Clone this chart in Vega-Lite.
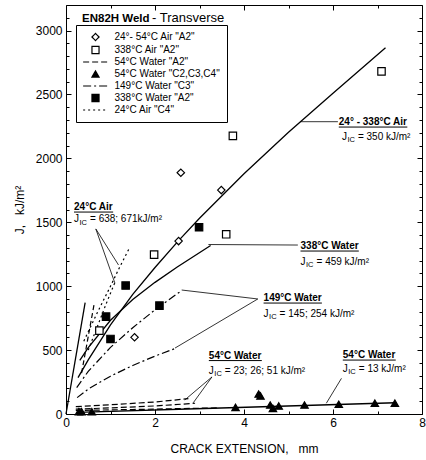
{
  "$schema": "https://vega.github.io/schema/vega-lite/v6.json",
  "autosize": {"type": "none"},
  "padding": {"left": 66, "top": 5, "right": 4, "bottom": 46},
  "width": 356,
  "height": 409,
  "background": "white",
  "config": {
    "font": "Liberation Sans",
    "view": {"stroke": "black", "strokeWidth": 1}
  },
  "datasets": {
    "curves": [
      {"curve": "air", "x": 0.27, "y": 285}, {"curve": "air", "x": 0.5, "y": 424}, {"curve": "air", "x": 1, "y": 698}, {"curve": "air", "x": 1.5, "y": 936}, {"curve": "air", "x": 2, "y": 1146}, {"curve": "air", "x": 2.52, "y": 1353}, {"curve": "air", "x": 3, "y": 1531}, {"curve": "air", "x": 4, "y": 1880}, {"curve": "air", "x": 5, "y": 2205}, {"curve": "air", "x": 6, "y": 2510}, {"curve": "air", "x": 7.18, "y": 2865},
      {"curve": "water338", "x": 0.31, "y": 420}, {"curve": "water338", "x": 0.5, "y": 520}, {"curve": "water338", "x": 1, "y": 733}, {"curve": "water338", "x": 1.5, "y": 895}, {"curve": "water338", "x": 2, "y": 1030}, {"curve": "water338", "x": 2.5, "y": 1150}, {"curve": "water338", "x": 3.25, "y": 1318},
      {"curve": "blunt", "x": 0, "y": 0}, {"curve": "blunt", "x": 0.43, "y": 872},
      {"curve": "fit54", "x": 0.25, "y": 13}, {"curve": "fit54", "x": 3.3, "y": 45}, {"curve": "fit54", "x": 7.4, "y": 88}
    ],
    "offset": [
      {"x": 0.35, "y": 320}, {"x": 0.64, "y": 874}
    ],
    "slines": [
      {"series": "54°C Water \"A2\"", "id": "w1", "x": 0.22, "y": 58}, {"series": "54°C Water \"A2\"", "id": "w1", "x": 1, "y": 72}, {"series": "54°C Water \"A2\"", "id": "w1", "x": 2, "y": 94}, {"series": "54°C Water \"A2\"", "id": "w1", "x": 2.75, "y": 120},
      {"series": "54°C Water \"A2\"", "id": "w2", "x": 0.22, "y": 38}, {"series": "54°C Water \"A2\"", "id": "w2", "x": 1, "y": 48}, {"series": "54°C Water \"A2\"", "id": "w2", "x": 2, "y": 63}, {"series": "54°C Water \"A2\"", "id": "w2", "x": 2.9, "y": 84},
      {"series": "54°C Water \"A2\"", "id": "w3", "x": 0.22, "y": 28}, {"series": "54°C Water \"A2\"", "id": "w3", "x": 1.5, "y": 35}, {"series": "54°C Water \"A2\"", "id": "w3", "x": 3.4, "y": 48},
      {"series": "149°C Water \"C3\"", "id": "u", "x": 0.24, "y": 207}, {"series": "149°C Water \"C3\"", "id": "u", "x": 0.5, "y": 334}, {"series": "149°C Water \"C3\"", "id": "u", "x": 1, "y": 521}, {"series": "149°C Water \"C3\"", "id": "u", "x": 1.5, "y": 675}, {"series": "149°C Water \"C3\"", "id": "u", "x": 2, "y": 815}, {"series": "149°C Water \"C3\"", "id": "u", "x": 2.6, "y": 966},
      {"series": "149°C Water \"C3\"", "id": "l", "x": 0.25, "y": 128}, {"series": "149°C Water \"C3\"", "id": "l", "x": 0.5, "y": 195}, {"series": "149°C Water \"C3\"", "id": "l", "x": 1, "y": 296}, {"series": "149°C Water \"C3\"", "id": "l", "x": 1.5, "y": 380}, {"series": "149°C Water \"C3\"", "id": "l", "x": 2, "y": 453}, {"series": "149°C Water \"C3\"", "id": "l", "x": 2.45, "y": 512},
      {"series": "24°C Air \"C4\"", "id": "d1", "x": 0.4, "y": 570}, {"series": "24°C Air \"C4\"", "id": "d1", "x": 0.7, "y": 790}, {"series": "24°C Air \"C4\"", "id": "d1", "x": 1.0, "y": 1000}, {"series": "24°C Air \"C4\"", "id": "d1", "x": 1.2, "y": 1145}, {"series": "24°C Air \"C4\"", "id": "d1", "x": 1.42, "y": 1295},
      {"series": "24°C Air \"C4\"", "id": "d2", "x": 0.5, "y": 500}, {"series": "24°C Air \"C4\"", "id": "d2", "x": 0.7, "y": 680}, {"series": "24°C Air \"C4\"", "id": "d2", "x": 0.9, "y": 860}, {"series": "24°C Air \"C4\"", "id": "d2", "x": 1.1, "y": 1030}
    ],
    "pts": [
      {"series": "24°- 54°C Air \"A2\"", "x": 1.54, "y": 600}, {"series": "24°- 54°C Air \"A2\"", "x": 2.53, "y": 1353}, {"series": "24°- 54°C Air \"A2\"", "x": 2.58, "y": 1888}, {"series": "24°- 54°C Air \"A2\"", "x": 3.49, "y": 1752},
      {"series": "338°C Air \"A2\"", "x": 0.75, "y": 652}, {"series": "338°C Air \"A2\"", "x": 1.98, "y": 1247}, {"series": "338°C Air \"A2\"", "x": 3.6, "y": 1406}, {"series": "338°C Air \"A2\"", "x": 3.75, "y": 2176}, {"series": "338°C Air \"A2\"", "x": 7.09, "y": 2681},
      {"series": "54°C Water \"C2,C3,C4\"", "x": 0.29, "y": 18}, {"series": "54°C Water \"C2,C3,C4\"", "x": 0.35, "y": 18}, {"series": "54°C Water \"C2,C3,C4\"", "x": 0.58, "y": 18}, {"series": "54°C Water \"C2,C3,C4\"", "x": 3.81, "y": 52}, {"series": "54°C Water \"C2,C3,C4\"", "x": 4.33, "y": 156}, {"series": "54°C Water \"C2,C3,C4\"", "x": 4.37, "y": 141}, {"series": "54°C Water \"C2,C3,C4\"", "x": 4.59, "y": 70}, {"series": "54°C Water \"C2,C3,C4\"", "x": 4.65, "y": 44}, {"series": "54°C Water \"C2,C3,C4\"", "x": 4.78, "y": 63}, {"series": "54°C Water \"C2,C3,C4\"", "x": 5.36, "y": 70}, {"series": "54°C Water \"C2,C3,C4\"", "x": 6.13, "y": 76}, {"series": "54°C Water \"C2,C3,C4\"", "x": 6.94, "y": 84}, {"series": "54°C Water \"C2,C3,C4\"", "x": 7.39, "y": 84},
      {"series": "338°C Water \"A2\"", "x": 0.9, "y": 762}, {"series": "338°C Water \"A2\"", "x": 1.0, "y": 587}, {"series": "338°C Water \"A2\"", "x": 1.34, "y": 1005}, {"series": "338°C Water \"A2\"", "x": 2.1, "y": 848}, {"series": "338°C Water \"A2\"", "x": 2.99, "y": 1461}
    ],
    "arrows": [
      {"x": 6.11, "y": 2287, "x2": 5.27, "y2": 2287},
      {"x": 5.21, "y": 1322, "x2": 3.2, "y2": 1326},
      {"x": 4.31, "y": 900, "x2": 2.6, "y2": 970},
      {"x": 4.31, "y": 900, "x2": 2.45, "y2": 516},
      {"x": 3.28, "y": 290, "x2": 2.67, "y2": 110},
      {"x": 3.28, "y": 290, "x2": 2.86, "y2": 88},
      {"x": 6.19, "y": 279, "x2": 5.85, "y2": 84},
      {"x": 0.67, "y": 1448, "x2": 1.18, "y2": 1166},
      {"x": 0.67, "y": 1448, "x2": 1.1, "y2": 1023}
    ],
    "heads": [
      {"label": "24° - 338°C Air", "x": 6.13, "y": 2261},
      {"label": "338°C Water", "x": 5.27, "y": 1291},
      {"label": "149°C Water", "x": 4.44, "y": 884},
      {"label": "54°C Water", "x": 3.21, "y": 434},
      {"label": "54°C Water", "x": 6.22, "y": 438},
      {"label": "24°C Air", "x": 0.18, "y": 1596}
    ],
    "under": [
      {"x": 6.13, "x2": 7.67, "y": 2245},
      {"x": 5.27, "x2": 6.58, "y": 1275},
      {"x": 4.44, "x2": 5.75, "y": 868},
      {"x": 3.21, "x2": 4.4, "y": 418},
      {"x": 6.22, "x2": 7.41, "y": 422},
      {"x": 0.18, "x2": 1.06, "y": 1580}
    ],
    "jics": [
      {"text": "= 350 kJ/m²", "x": 6.2, "y": 2144},
      {"text": "= 459 kJ/m²", "x": 5.27, "y": 1166},
      {"text": "= 145; 254 kJ/m²", "x": 4.44, "y": 759},
      {"text": "= 23; 26; 51 kJ/m²", "x": 3.21, "y": 313},
      {"text": "= 13 kJ/m²", "x": 6.22, "y": 329},
      {"text": "= 638; 671kJ/m²", "x": 0.18, "y": 1502}
    ],
    "title": [
      {"bold": "EN82H Weld", "rest": "- Transverse", "x": 0.36, "y": 3070}
    ]
  },
  "resolve": {"axis": {"x": "independent", "y": "independent"}},
  "layer": [
    {
      "data": {"name": "curves"},
      "mark": {"type": "line", "color": "black", "strokeWidth": 1.3},
      "encoding": {
        "x": {"field": "x", "type": "quantitative", "scale": {"domain": [0, 8], "nice": false, "zero": false},
          "axis": {"orient": "bottom", "values": [0, 1, 2, 3, 4, 5, 6, 7, 8], "labelExpr": "datum.value % 2 === 0 ? datum.label : ''",
            "tickSize": {"condition": {"test": "datum.value % 2 === 0", "value": -5}, "value": -3},
            "tickColor": "black", "domain": false, "grid": false, "labelFontSize": 12, "labelColor": "black", "labelPadding": 8,
            "labelOverlap": false, "labelFlush": false, "title": "CRACK EXTENSION,\u00a0\u00a0\u00a0mm", "titleFontSize": 12,
            "titleFontWeight": "normal", "titleColor": "black", "titlePadding": 13}},
        "y": {"field": "y", "type": "quantitative", "scale": {"domain": [0, 3200], "nice": false},
          "axis": {"orient": "left", "values": [0, 100, 200, 300, 400, 500, 600, 700, 800, 900, 1000, 1100, 1200, 1300, 1400, 1500, 1600, 1700, 1800, 1900, 2000, 2100, 2200, 2300, 2400, 2500, 2600, 2700, 2800, 2900, 3000, 3100],
            "format": "d", "labelExpr": "datum.value % 500 === 0 ? datum.label : ''",
            "tickSize": {"condition": {"test": "datum.value % 500 === 0", "value": -5}, "value": -3},
            "tickColor": "black", "domain": false, "grid": false, "labelFontSize": 12, "labelColor": "black", "labelPadding": 9,
            "labelOverlap": false, "labelFlush": false, "title": "J,\u00a0\u00a0\u00a0kJ/m²", "titleFontSize": 12,
            "titleFontWeight": "normal", "titleColor": "black", "titlePadding": 9}},
        "detail": {"field": "curve"}
      }
    },
    {
      "data": {"name": "offset"},
      "mark": {"type": "line", "color": "black", "strokeWidth": 1.2, "strokeDash": [5, 3]},
      "encoding": {
        "x": {"field": "x", "type": "quantitative", "scale": {"domain": [0, 8], "nice": false, "zero": false}, "axis": null},
        "y": {"field": "y", "type": "quantitative", "scale": {"domain": [0, 3200], "nice": false}, "axis": null}
      }
    },
    {
      "data": {"name": "slines"},
      "mark": {"type": "line", "color": "black", "strokeWidth": 1.2},
      "encoding": {
        "x": {"field": "x", "type": "quantitative", "scale": {"domain": [0, 8], "nice": false, "zero": false}, "axis": null},
        "y": {"field": "y", "type": "quantitative", "scale": {"domain": [0, 3200], "nice": false}, "axis": null},
        "detail": {"field": "id"},
        "strokeDash": {"field": "series", "type": "nominal",
          "scale": {"domain": ["24°- 54°C Air \"A2\"", "338°C Air \"A2\"", "54°C Water \"A2\"", "54°C Water \"C2,C3,C4\"", "149°C Water \"C3\"", "338°C Water \"A2\"", "24°C Air \"C4\""],
            "range": [[1, 0], [1, 0], [6, 3], [1, 0], [8, 3, 2, 3], [1, 0], [2, 3]]},
          "legend": {"title": null, "orient": "none", "legendX": 10, "legendY": 20, "padding": 7, "strokeColor": "black", "fillColor": "white",
            "labelFontSize": 10, "labelFont": "Liberation Sans", "labelColor": "black", "symbolSize": 50, "symbolStrokeColor": "black",
            "symbolStrokeWidth": 1, "symbolOffset": 7.5, "labelOffset": 14, "rowPadding": 1, "cornerRadius": 0,
            "encode": {"symbols": {"update": {"stroke": {"value": "black"}, "strokeWidth": {"value": 1.2}}}}}}
      }
    },
    {
      "data": {"name": "pts"},
      "mark": {"type": "point", "filled": true, "stroke": "black", "strokeWidth": 1.2, "size": 55, "opacity": 1},
      "encoding": {
        "x": {"field": "x", "type": "quantitative", "scale": {"domain": [0, 8], "nice": false, "zero": false}, "axis": null},
        "y": {"field": "y", "type": "quantitative", "scale": {"domain": [0, 3200], "nice": false}, "axis": null},
        "shape": {"field": "series", "type": "nominal",
          "scale": {"domain": ["24°- 54°C Air \"A2\"", "338°C Air \"A2\"", "54°C Water \"A2\"", "54°C Water \"C2,C3,C4\"", "149°C Water \"C3\"", "338°C Water \"A2\"", "24°C Air \"C4\""],
            "range": ["diamond", "square", "M-3.5,0H3.5", "triangle-up", "M-3.5,0H3.5", "square", "M-3.5,0H3.5"]},
          "legend": {"title": null, "orient": "none", "legendX": 10, "legendY": 20, "padding": 7, "strokeColor": "black", "fillColor": "white",
            "labelFontSize": 10, "labelFont": "Liberation Sans", "labelColor": "black", "symbolSize": 50, "symbolStrokeColor": "black",
            "symbolStrokeWidth": 1, "symbolOffset": 7.5, "labelOffset": 14, "rowPadding": 1, "cornerRadius": 0,
            "encode": {"symbols": {"update": {"stroke": {"value": "black"}, "strokeWidth": {"value": 1.2}}}}}},
        "fill": {"field": "series", "type": "nominal",
          "scale": {"domain": ["24°- 54°C Air \"A2\"", "338°C Air \"A2\"", "54°C Water \"A2\"", "54°C Water \"C2,C3,C4\"", "149°C Water \"C3\"", "338°C Water \"A2\"", "24°C Air \"C4\""],
            "range": ["white", "white", "transparent", "black", "transparent", "black", "transparent"]},
          "legend": {"title": null, "orient": "none", "legendX": 10, "legendY": 20, "padding": 7, "strokeColor": "black", "fillColor": "white",
            "labelFontSize": 10, "labelFont": "Liberation Sans", "labelColor": "black", "symbolSize": 50, "symbolStrokeColor": "black",
            "symbolStrokeWidth": 1, "symbolOffset": 7.5, "labelOffset": 14, "rowPadding": 1, "cornerRadius": 0,
            "encode": {"symbols": {"update": {"stroke": {"value": "black"}, "strokeWidth": {"value": 1.2}}}}}}
      }
    },
    {
      "data": {"name": "arrows"},
      "mark": {"type": "rule", "color": "black", "strokeWidth": 0.8},
      "encoding": {
        "x": {"field": "x", "type": "quantitative", "scale": {"domain": [0, 8], "nice": false, "zero": false},
          "axis": {"orient": "top", "values": [0, 1, 2, 3, 4, 5, 6, 7, 8], "labels": false,
            "tickSize": {"condition": {"test": "datum.value % 2 === 0", "value": -5}, "value": -3},
            "tickColor": "black", "domain": false, "grid": false, "title": null}},
        "y": {"field": "y", "type": "quantitative", "scale": {"domain": [0, 3200], "nice": false},
          "axis": {"orient": "right", "values": [0, 100, 200, 300, 400, 500, 600, 700, 800, 900, 1000, 1100, 1200, 1300, 1400, 1500, 1600, 1700, 1800, 1900, 2000, 2100, 2200, 2300, 2400, 2500, 2600, 2700, 2800, 2900, 3000, 3100],
            "labels": false, "tickSize": {"condition": {"test": "datum.value % 500 === 0", "value": -5}, "value": -3},
            "tickColor": "black", "domain": false, "grid": false, "title": null}},
        "x2": {"field": "x2"},
        "y2": {"field": "y2"}
      }
    },
    {
      "data": {"name": "under"},
      "mark": {"type": "rule", "color": "black", "strokeWidth": 1},
      "encoding": {
        "x": {"field": "x", "type": "quantitative", "scale": {"domain": [0, 8], "nice": false, "zero": false}, "axis": null},
        "y": {"field": "y", "type": "quantitative", "scale": {"domain": [0, 3200], "nice": false}, "axis": null},
        "x2": {"field": "x2"}
      }
    },
    {
      "data": {"name": "heads"},
      "mark": {"type": "text", "align": "left", "baseline": "alphabetic", "fontSize": 10, "fontWeight": "bold", "color": "black"},
      "encoding": {
        "x": {"field": "x", "type": "quantitative", "scale": {"domain": [0, 8], "nice": false, "zero": false}, "axis": null},
        "y": {"field": "y", "type": "quantitative", "scale": {"domain": [0, 3200], "nice": false}, "axis": null},
        "text": {"field": "label"}
      }
    },
    {
      "data": {"name": "jics"},
      "mark": {"type": "text", "align": "left", "baseline": "alphabetic", "fontSize": 10, "color": "black", "text": "J"},
      "encoding": {
        "x": {"field": "x", "type": "quantitative", "scale": {"domain": [0, 8], "nice": false, "zero": false}, "axis": null},
        "y": {"field": "y", "type": "quantitative", "scale": {"domain": [0, 3200], "nice": false}, "axis": null}
      }
    },
    {
      "data": {"name": "jics"},
      "mark": {"type": "text", "align": "left", "baseline": "alphabetic", "fontSize": 7.5, "color": "black", "text": "IC", "dx": 5.5, "dy": 2.5},
      "encoding": {
        "x": {"field": "x", "type": "quantitative", "scale": {"domain": [0, 8], "nice": false, "zero": false}, "axis": null},
        "y": {"field": "y", "type": "quantitative", "scale": {"domain": [0, 3200], "nice": false}, "axis": null}
      }
    },
    {
      "data": {"name": "jics"},
      "mark": {"type": "text", "align": "left", "baseline": "alphabetic", "fontSize": 10, "color": "black", "dx": 16},
      "encoding": {
        "x": {"field": "x", "type": "quantitative", "scale": {"domain": [0, 8], "nice": false, "zero": false}, "axis": null},
        "y": {"field": "y", "type": "quantitative", "scale": {"domain": [0, 3200], "nice": false}, "axis": null},
        "text": {"field": "text"}
      }
    },
    {
      "data": {"name": "title"},
      "mark": {"type": "text", "align": "left", "baseline": "alphabetic", "fontSize": 11.5, "fontWeight": "bold", "color": "black"},
      "encoding": {
        "x": {"field": "x", "type": "quantitative", "scale": {"domain": [0, 8], "nice": false, "zero": false}, "axis": null},
        "y": {"field": "y", "type": "quantitative", "scale": {"domain": [0, 3200], "nice": false}, "axis": null},
        "text": {"field": "bold"}
      }
    },
    {
      "data": {"name": "title"},
      "mark": {"type": "text", "align": "left", "baseline": "alphabetic", "fontSize": 13, "color": "black", "dx": 70},
      "encoding": {
        "x": {"field": "x", "type": "quantitative", "scale": {"domain": [0, 8], "nice": false, "zero": false}, "axis": null},
        "y": {"field": "y", "type": "quantitative", "scale": {"domain": [0, 3200], "nice": false}, "axis": null},
        "text": {"field": "rest"}
      }
    }
  ]
}
